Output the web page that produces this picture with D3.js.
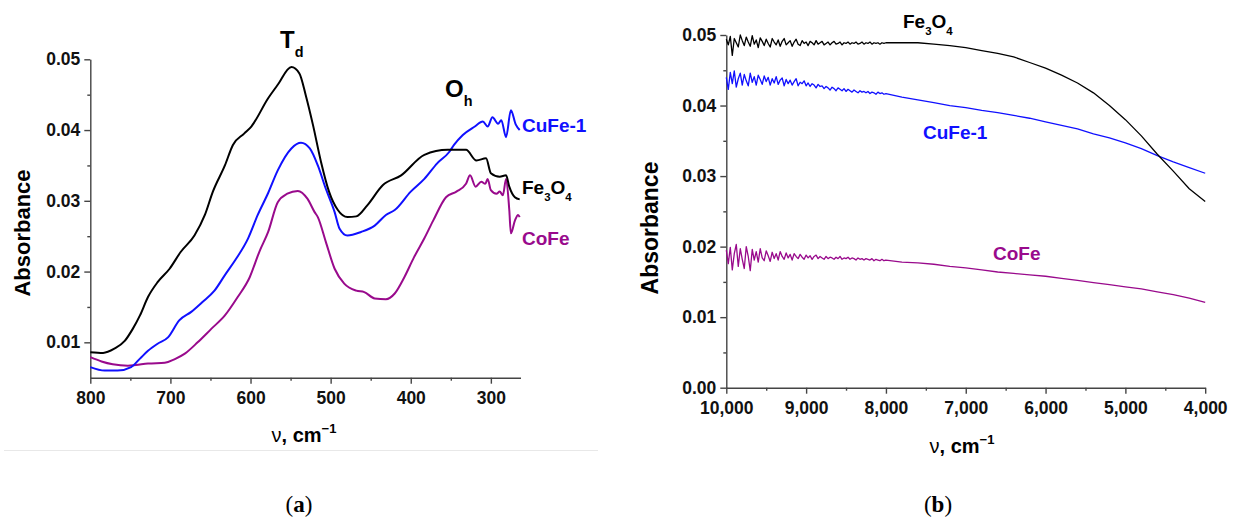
<!DOCTYPE html>
<html>
<head>
<meta charset="utf-8">
<title>Absorbance spectra</title>
<script src="https://cdn.jsdelivr.net/npm/d3@7"></script>
<style>
	html, body{
		margin:0;
		background:#fff;
	}
	svg text{
		font-family: "Liberation Sans", Arial, sans-serif;
	}
	.axis path, .axis line{
		stroke:#444;
		stroke-width:1.4px;
	}
	.axis text{
		font-size:17.5px;
		font-weight:bold;
		fill:#111;
	}
</style>
</head>
<body>
<svg id="chart" width="1233" height="518"></svg>
<script>
// ---- panel (a): far IR, 800-265 cm-1 ----
var nuA_Fe3O4 = [800,784,770,757,747,738,728,716,701,687,670,657,647,632,622,608,599,578,566,549,539,531,522,512,502,491,479,468,454,435,412,383,354,331,318,306,300,289,281,277,270,264];
var absA_Fe3O4 = [0.0086,0.0085,0.0091,0.0102,0.0119,0.0138,0.0164,0.0185,0.0204,0.0228,0.0251,0.0280,0.0313,0.0350,0.0379,0.0395,0.0405,0.0445,0.0464,0.0489,0.0480,0.0449,0.0407,0.0355,0.0313,0.0287,0.0277,0.0278,0.0294,0.0322,0.0336,0.0365,0.0372,0.0372,0.0357,0.0360,0.0339,0.0334,0.0336,0.0320,0.0305,0.0302];

var nuA_CuFe1 = [800,782,766,749,738,728,716,703,689,674,660,645,632,618,603,591,578,566,549,537,526,516,506,495,489,479,462,445,431,420,400,383,367,352,346,335,320,310,304,298,291,287,281,275,269,264];
var absA_CuFe1 = [0.0065,0.0060,0.0060,0.0065,0.0077,0.0088,0.0098,0.0107,0.0131,0.0143,0.0157,0.0173,0.0195,0.0218,0.0247,0.0280,0.0311,0.0343,0.0374,0.0382,0.0374,0.0350,0.0317,0.0284,0.0261,0.0251,0.0256,0.0265,0.0280,0.0287,0.0313,0.0331,0.0353,0.0369,0.0379,0.0393,0.0405,0.0412,0.0405,0.0418,0.0409,0.0414,0.0390,0.0428,0.0408,0.0400];

var nuA_CoFe = [800,786,772,753,743,728,707,695,682,666,649,632,616,601,589,578,566,554,541,529,520,516,506,495,483,468,458,445,431,420,408,396,383,372,356,343,331,326,319,312,307,304,300,293,289,285,281,277,275,270,266,264];
var absA_CoFe = [0.0079,0.0073,0.0069,0.0067,0.0068,0.0070,0.0071,0.0076,0.0084,0.0100,0.0119,0.0138,0.0164,0.0192,0.0228,0.0256,0.0298,0.0310,0.0314,0.0303,0.0284,0.0277,0.0242,0.0204,0.0183,0.0173,0.0171,0.0162,0.0161,0.0169,0.0192,0.0220,0.0247,0.0272,0.0305,0.0313,0.0324,0.0336,0.0320,0.0327,0.0324,0.0331,0.0315,0.0310,0.0313,0.0308,0.0331,0.0287,0.0254,0.0272,0.0280,0.0277];

var xTicksA = [800,700,600,500,400,300];
var xMinorA = [750,650,550,450,350];
var yTicksA = [0.01,0.02,0.03,0.04,0.05];
var yMinorA = [0.015,0.025,0.035,0.045];

// ---- panel (b): near IR, 10000-4000 cm-1 ----
var nuB = [10000,9975,9950,9925,9900,9875,9850,9825,9800,9775,9750,9725,9700,9675,9650,9625,9600,9575,9550,9525,9500,9475,9450,9425,9400,9375,9350,9325,9300,9275,9250,9225,9200,9175,9150,9125,9100,9075,9050,9025,9000,8975,8950,8925,8900,8875,8850,8825,8800,8775,8750,8725,8700,8675,8650,8625,8600,8575,8550,8525,8500,8475,8450,8425,8400,8375,8350,8325,8300,8275,8250,8225,8200,8175,8150,8125,8100,8075,8050,8025,8000,7800,7600,7400,7200,7000,6800,6600,6400,6200,6000,5800,5600,5400,5200,5000,4800,4600,4400,4200,4000];

var absB_Fe3O4 = [0.0494,0.0486,0.0498,0.0471,0.0495,0.0489,0.0483,0.0500,0.0492,0.0485,
	0.0497,0.0490,0.0484,0.0499,0.0487,0.0493,0.0482,0.0496,0.0491,0.0485,
	0.0494,0.0488,0.0483,0.0495,0.0490,0.0486,0.0493,0.0484,0.0491,0.0495,
	0.0486,0.0489,0.0492,0.0484,0.0490,0.0494,0.0487,0.0485,0.0492,0.0488,
	0.0490,0.0485,0.0491,0.0489,0.0486,0.0492,0.0487,0.0489,0.0491,0.0486,
	0.0488,0.0490,0.0486,0.0489,0.0491,0.0487,0.0488,0.0490,0.0486,0.0489,
	0.0488,0.0490,0.0487,0.0489,0.0488,0.0490,0.0487,0.0488,0.0490,0.0487,
	0.0489,0.0488,0.0490,0.0487,0.0489,0.0488,0.0489,0.0487,0.0489,0.0488,
	0.0489,0.0489,0.0489,0.0487,0.0485,0.0482,0.0478,0.0474,0.0469,0.0461,0.0453,0.0443,0.0432,0.0418,0.0400,0.0380,0.0357,0.0331,0.0307,0.0282,0.0264];

var absB_CuFe1 = [0.0440,0.0423,0.0447,0.0431,0.0449,0.0426,0.0438,0.0446,0.0429,0.0444,
	0.0435,0.0428,0.0446,0.0433,0.0441,0.0429,0.0443,0.0437,0.0430,0.0442,
	0.0434,0.0440,0.0429,0.0438,0.0432,0.0441,0.0430,0.0436,0.0439,0.0428,
	0.0437,0.0431,0.0436,0.0429,0.0434,0.0438,0.0428,0.0433,0.0431,0.0435,
	0.0428,0.0432,0.0427,0.0431,0.0429,0.0425,0.0430,0.0427,0.0428,0.0424,
	0.0427,0.0425,0.0422,0.0426,0.0424,0.0421,0.0425,0.0423,0.0421,0.0424,
	0.0420,0.0423,0.0421,0.0419,0.0422,0.0420,0.0418,0.0421,0.0419,0.0420,
	0.0418,0.0420,0.0417,0.0419,0.0418,0.0416,0.0419,0.0417,0.0418,0.0416,
	0.0417,0.0412,0.0408,0.0404,0.0400,0.0397,0.0393,0.0390,0.0386,0.0382,0.0377,0.0372,0.0367,0.0360,0.0354,0.0347,0.0339,0.0329,0.0320,0.0312,0.0304];

var absB_CoFe = [0.0195,0.0176,0.0199,0.0167,0.0190,0.0203,0.0172,0.0197,0.0182,0.0169,
	0.0200,0.0186,0.0166,0.0196,0.0181,0.0193,0.0178,0.0197,0.0184,0.0180,
	0.0194,0.0187,0.0179,0.0192,0.0183,0.0190,0.0181,0.0193,0.0186,0.0182,
	0.0191,0.0184,0.0189,0.0181,0.0190,0.0186,0.0183,0.0189,0.0185,0.0182,
	0.0188,0.0184,0.0187,0.0182,0.0186,0.0188,0.0183,0.0186,0.0184,0.0182,
	0.0186,0.0183,0.0185,0.0184,0.0182,0.0185,0.0183,0.0186,0.0182,0.0184,
	0.0183,0.0185,0.0182,0.0184,0.0183,0.0181,0.0184,0.0182,0.0183,0.0181,
	0.0183,0.0182,0.0181,0.0183,0.0180,0.0182,0.0181,0.0180,0.0182,0.0180,
	0.0181,0.0178,0.0177,0.0175,0.0172,0.0170,0.0167,0.0164,0.0162,0.0160,0.0158,0.0155,0.0152,0.0149,0.0146,0.0143,0.0140,0.0136,0.0132,0.0127,0.0121];

var xTicksB = [10000,9000,8000,7000,6000,5000,4000];
var xMinorB = [9500,8500,7500,6500,5500,4500];
var yTicksB = [0,0.01,0.02,0.03,0.04,0.05];
var yMinorB = [0.005,0.015,0.025,0.035,0.045];

var BLACK = "#000", BLUE = "#1010ff", PURPLE = "#990a8c";

var svg = d3.select("#chart");
svg.append("rect").attr("width",1233).attr("height",518).attr("fill","#fff");

function zip(xs, ys){ return xs.map(function(v,i){ return [v, ys[i]]; }); }

function drawPanel(o){
	var x = d3.scaleLinear().domain(o.xDomain).range(o.xRange);
	var y = d3.scaleLinear().domain(o.yDomain).range(o.yRange);
	var g = svg.append("g");

	// minor ticks first so the axis line sits on top
	g.append("g").attr("class","axis").attr("transform","translate(0,"+o.yRange[0]+")")
		.call(d3.axisBottom(x).tickValues(o.xMinor).tickSize(3).tickFormat(""))
		.select(".domain").remove();
	g.append("g").attr("class","axis").attr("transform","translate("+o.xRange[0]+",0)")
		.call(d3.axisLeft(y).tickValues(o.yMinor).tickSize(3).tickFormat(""))
		.select(".domain").remove();

	g.append("g").attr("class","axis").attr("transform","translate(0,"+o.yRange[0]+")")
		.call(d3.axisBottom(x).tickValues(o.xTicks).tickSize(6).tickSizeOuter(0).tickPadding(8).tickFormat(o.xFormat));
	g.append("g").attr("class","axis").attr("transform","translate("+o.xRange[0]+",0)")
		.call(d3.axisLeft(y).tickValues(o.yTicks).tickSize(6).tickSizeOuter(0).tickPadding(4).tickFormat(d3.format(".2f")));

	var line = d3.line().curve(o.curve)
		.x(function(d){ return x(d[0]); }).y(function(d){ return y(d[1]); });
	o.series.forEach(function(s){
		g.append("path").datum(zip(s.nu, s.abs))
			.attr("fill","none").attr("stroke",s.color)
			.attr("stroke-width",o.lw).attr("stroke-linejoin","round")
			.attr("d",line);
	});

	// axis titles
	g.append("text").attr("transform","translate("+o.yLabelX+","+o.yLabelY+") rotate(-90)")
		.attr("text-anchor","middle").attr("font-size",o.yLabelSize).attr("font-weight","bold")
		.text("Absorbance");
	var xl = g.append("text").attr("x",o.xLabelX).attr("y",o.xLabelY)
		.attr("text-anchor","middle").attr("font-size",20).attr("font-weight","bold");
	xl.append("tspan").attr("font-weight","normal").text("ν");
	xl.append("tspan").text(", cm");
	xl.append("tspan").attr("font-size",13).attr("dy",-9).text("−1");

	// caption
	var cap = svg.append("text").attr("x",o.capX).attr("y",512)
		.attr("text-anchor","middle").attr("font-size",23)
		.style("font-family","'Liberation Serif', 'DejaVu Serif', serif");
	cap.append("tspan").text("(");
	cap.append("tspan").attr("font-weight","bold").text(o.cap);
	cap.append("tspan").text(")");
	return g;
}

// formula style label; {s:"3"} parts are drawn as subscripts
function label(g, x0, y0, parts, color, size, drop){
	drop = drop || 7;
	var t = g.append("text").attr("x",x0).attr("y",y0).attr("fill",color)
		.attr("font-size",size).attr("font-weight","bold");
	var low = false;
	parts.forEach(function(p){
		var sub = typeof p !== "string";
		var ts = t.append("tspan").text(sub ? p.s : p);
		if (sub) ts.attr("font-size",size*0.6);
		if (sub !== low) ts.attr("dy", sub ? drop : -drop);
		low = sub;
	});
	return t;
}

var gA = drawPanel({
	xDomain:[800,263], xRange:[90.3,520.5],
	yDomain:[0.005,0.05], yRange:[377.7,59.3],
	xTicks:xTicksA, xMinor:xMinorA, yTicks:yTicksA, yMinor:yMinorA,
	xFormat:d3.format("d"), lw:2, curve:d3.curveMonotoneX,
	series:[
		{nu:nuA_CoFe, abs:absA_CoFe, color:PURPLE},
		{nu:nuA_CuFe1, abs:absA_CuFe1, color:BLUE},
		{nu:nuA_Fe3O4, abs:absA_Fe3O4, color:BLACK}
	],
	yLabelX:30, yLabelY:233, yLabelSize:22,
	xLabelX:304, xLabelY:442,
	capX:299, cap:"a"
});

var gB = drawPanel({
	xDomain:[10000,4000], xRange:[726.3,1205.2],
	yDomain:[0,0.05], yRange:[387.7,35],
	xTicks:xTicksB, xMinor:xMinorB, yTicks:yTicksB, yMinor:yMinorB,
	xFormat:d3.format(","), lw:1.3, curve:d3.curveLinear,
	series:[
		{nu:nuB, abs:absB_CoFe, color:PURPLE},
		{nu:nuB, abs:absB_CuFe1, color:BLUE},
		{nu:nuB, abs:absB_Fe3O4, color:BLACK}
	],
	yLabelX:658, yLabelY:228, yLabelSize:23,
	xLabelX:962, xLabelY:453,
	capX:938, cap:"b"
});

// band labels in (a)
label(gA, 280, 48, ["T", {s:"d"}], BLACK, 24, 9);
label(gA, 445, 97, ["O", {s:"h"}], BLACK, 24, 9);
label(gA, 522, 132, ["CuFe-1"], BLUE, 19);
label(gA, 522, 194, ["Fe", {s:"3"}, "O", {s:"4"}], BLACK, 19);
label(gA, 522, 245, ["CoFe"], PURPLE, 19);

// sample labels in (b)
label(gB, 903, 28, ["Fe", {s:"3"}, "O", {s:"4"}], BLACK, 19);
label(gB, 923, 139, ["CuFe-1"], BLUE, 19);
label(gB, 993, 260, ["CoFe"], PURPLE, 19);

// thin rule under panel (a)
svg.append("line").attr("x1",4).attr("x2",598).attr("y1",450.5).attr("y2",450.5)
	.attr("stroke","#e8e8e8").attr("stroke-width",1);
</script>
</body>
</html>
